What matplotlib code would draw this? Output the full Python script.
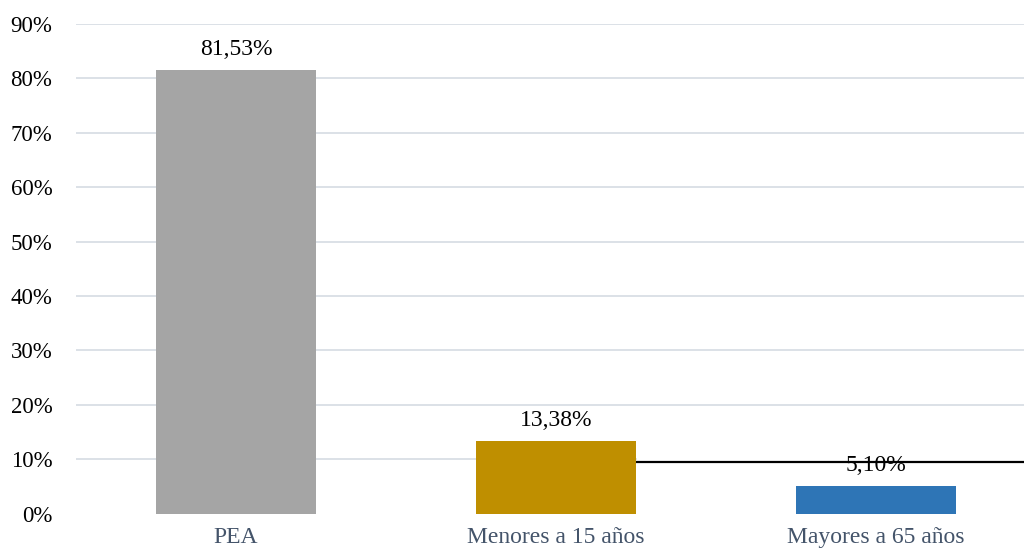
import matplotlib.pyplot as plt

categories = ['PEA', 'Menores a 15 años', 'Mayores a 65 años']
values = [81.53, 13.38, 5.10]
labels = ['81,53%', '13,38%', '5,10%']
colors = ['#a5a5a5', '#bf8f00', '#2e75b6']
y_ticks = [0, 10, 20, 30, 40, 50, 60, 70, 80, 90]
y_tick_labels = ['%d%%' % t for t in y_ticks]
marker_line_y = 9.48

plt.rcParams['font.family'] = ['Liberation Serif', 'DejaVu Serif']
fs = 17

fig = plt.figure(figsize=(10.24, 5.49), dpi=100)
ax = fig.add_axes([76 / 1024, 35.5 / 549, 960 / 1024, 489.5 / 549])

x = range(len(categories))
bar_w = 0.5
ax.bar(x, values, width=bar_w, color=colors, zorder=3)

for i, (v, lab) in enumerate(zip(values, labels)):
    ax.annotate(lab, (i, v), xytext=(0, 7), textcoords='offset points',
                ha='center', va='bottom', fontsize=fs, color='#000000',
                zorder=5)

# gridlines; the 10% one stops at the second bar, where the black rule takes over
grid_c = '#d9dee5'
for t in y_ticks[2:]:
    ax.axhline(t, color=grid_c, lw=1.3, zorder=1)
ax.plot([-0.5, 1 + bar_w / 2], [10, 10], color=grid_c, lw=1.3, zorder=1)
ax.plot([1 + bar_w / 2, 2.5], [marker_line_y, marker_line_y],
        color='black', lw=1.6, zorder=4, solid_capstyle='butt')

ax.set_xlim(-0.5, 2.5)
ax.set_ylim(0, 90)
ax.set_yticks(y_ticks)
ax.set_yticklabels(y_tick_labels, fontsize=16.5, color='#000000')
ax.set_xticks(list(x))
ax.set_xticklabels(categories, fontsize=fs, color='#44546a')
ax.tick_params(axis='both', length=0)
ax.tick_params(axis='y', pad=17)
ax.tick_params(axis='x', pad=10)
for s in ax.spines.values():
    s.set_visible(False)

fig.savefig('out.png', dpi=100)
